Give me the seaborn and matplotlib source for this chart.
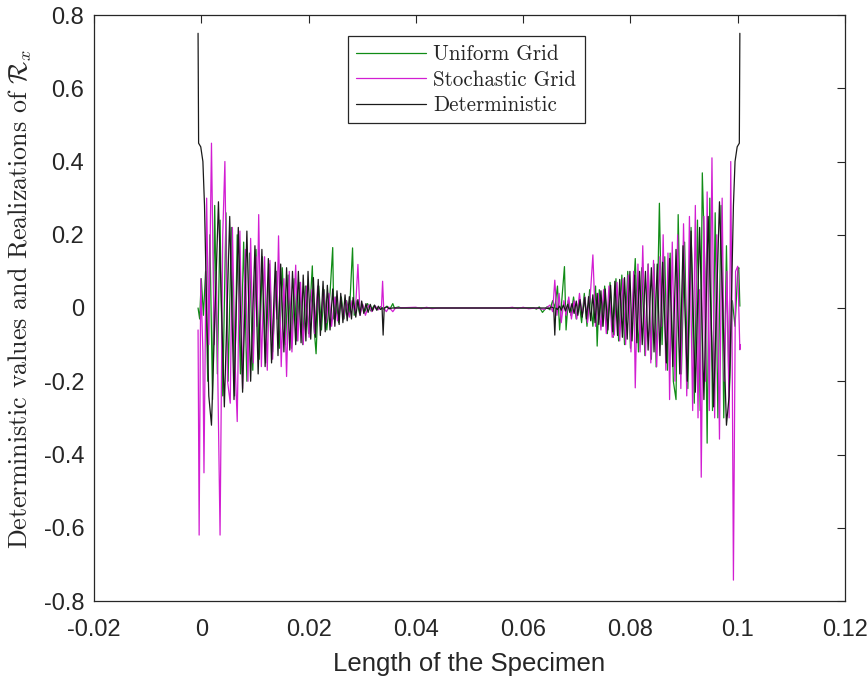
import matplotlib
matplotlib.use("Agg")
import matplotlib.pyplot as plt
from matplotlib import font_manager
import seaborn as sns
import pandas as pd

# ---- Deterministic solution (extrema of the oscillating response) ----
det_x = [-0.0006, -0.0005, -0.0001, 0.0003, 0.0006, 0.0010, 0.0014, 0.0019,
         0.0032, 0.0043, 0.0053, 0.0061, 0.0069, 0.0077, 0.0085, 0.0092, 0.0100, 0.0106,
         0.0113, 0.0119, 0.0125, 0.0131, 0.0138, 0.0143, 0.0148, 0.0154, 0.0159, 0.0165,
         0.0170, 0.0176, 0.0181, 0.0186, 0.0190, 0.0195, 0.0199, 0.0204, 0.0209, 0.0213,
         0.0218, 0.0222, 0.0227, 0.0231, 0.0235, 0.0240, 0.0245, 0.0249, 0.0253, 0.0257,
         0.0260, 0.0264, 0.0268, 0.0272, 0.0276, 0.0280, 0.0283, 0.0288, 0.0292, 0.0296,
         0.0299, 0.0303, 0.0307, 0.0311, 0.0315, 0.0319, 0.0323, 0.0327, 0.0330, 0.0334,
         0.0337, 0.0339, 0.0341, 0.0346, 0.0350, 0.0356,
         0.0642, 0.0648, 0.0652, 0.0657, 0.0659, 0.0661, 0.0664, 0.0668, 0.0671, 0.0675,
         0.0679, 0.0683, 0.0687, 0.0691, 0.0695, 0.0699, 0.0702, 0.0706, 0.0710, 0.0715,
         0.0718, 0.0722, 0.0726, 0.0730, 0.0734, 0.0738, 0.0741, 0.0745, 0.0749, 0.0753,
         0.0758, 0.0763, 0.0767, 0.0771, 0.0776, 0.0780, 0.0785, 0.0789, 0.0794, 0.0799,
         0.0803, 0.0808, 0.0812, 0.0817, 0.0822, 0.0828, 0.0833, 0.0839, 0.0844, 0.0850,
         0.0855, 0.0860, 0.0867, 0.0873, 0.0879, 0.0885, 0.0892, 0.0898, 0.0906, 0.0913,
         0.0921, 0.0929, 0.0937, 0.0945, 0.0955, 0.0966, 0.0979, 0.0984, 0.0988, 0.0992,
         0.0995, 0.0999, 0.1003, 0.1004]
det_y = [0.75, 0.45, 0.44, 0.40, 0.28, 0.00, -0.24, -0.32,
         0.29, -0.27, 0.25, -0.25, 0.22, -0.23, 0.21, -0.20, 0.17, -0.18,
         0.16, -0.16, 0.135, -0.15, 0.125, -0.13, 0.12, -0.12, 0.11, -0.115,
         0.10, -0.10, 0.10, -0.095, 0.09, -0.09, 0.10, -0.085, 0.083, -0.08,
         0.078, -0.075, 0.073, -0.065, 0.062, -0.06, 0.052, -0.05, 0.047, -0.045,
         0.04, -0.04, 0.036, -0.035, 0.031, -0.03, 0.029, -0.025, 0.023, -0.02,
         0.019, -0.015, 0.012, -0.012, 0.01, -0.008, 0.008, -0.006, 0.005, -0.004,
         0.0, -0.074, 0.0, 0.003, -0.002, 0.0,
         0.0, -0.002, 0.003, 0.0, -0.074, 0.0, -0.004, 0.005, -0.006, 0.008,
         -0.008, 0.01, -0.012, 0.012, -0.015, 0.019, -0.02, 0.023, -0.025, 0.029,
         -0.03, 0.031, -0.035, 0.036, -0.04, 0.04, -0.045, 0.047, -0.05, 0.052,
         -0.06, 0.062, -0.065, 0.073, -0.075, 0.078, -0.08, 0.083, -0.085, 0.10,
         -0.09, 0.09, -0.095, 0.10, -0.10, 0.10, -0.115, 0.11, -0.12, 0.12,
         -0.13, 0.125, -0.15, 0.135, -0.16, 0.16, -0.18, 0.17, -0.20, 0.21,
         -0.23, 0.22, -0.25, 0.25, -0.27, 0.29, -0.32, -0.24, 0.00, 0.28,
         0.40, 0.44, 0.45, 0.75]

# ---- Realization on the uniform grid ----
uni_x = [-0.0006, -0.0003, 0.0000, 0.0004, 0.0008, 0.0012, 0.0016, 0.0021, 0.0025, 0.0030,
         0.0035, 0.0040, 0.0046, 0.0050, 0.0056, 0.0062, 0.0067, 0.0073, 0.0079, 0.0085,
         0.0090, 0.0096, 0.0102, 0.0108, 0.0114, 0.0120, 0.0127, 0.0133, 0.0140, 0.0146,
         0.0151, 0.0157, 0.0162, 0.0168, 0.0173, 0.0178, 0.0184, 0.0189, 0.0194, 0.0200,
         0.0207, 0.0210, 0.0214, 0.0219, 0.0224, 0.0229, 0.0234, 0.0240, 0.0245, 0.0247,
         0.0251, 0.0256, 0.0261, 0.0266, 0.0271, 0.0276, 0.0282, 0.0285, 0.0290, 0.0295,
         0.0300, 0.0305, 0.0310, 0.0316, 0.0322, 0.0328, 0.0335, 0.0340, 0.0346, 0.0352,
         0.0357, 0.0360, 0.0368, 0.0372,
         0.0620, 0.0625, 0.0630, 0.0636, 0.0645, 0.0650, 0.0655, 0.0659, 0.0664, 0.0668,
         0.0672, 0.0677, 0.0680, 0.0684, 0.0689, 0.0694, 0.0699, 0.0704, 0.0709, 0.0714,
         0.0719, 0.0724, 0.0730, 0.0735, 0.0738, 0.0742, 0.0747, 0.0752, 0.0757, 0.0762,
         0.0768, 0.0773, 0.0778, 0.0784, 0.0789, 0.0795, 0.0800, 0.0809, 0.0815, 0.0821,
         0.0827, 0.0833, 0.0839, 0.0844, 0.0848, 0.0854, 0.0859, 0.0864, 0.0869, 0.0874,
         0.0880, 0.0885, 0.0889, 0.0895, 0.0901, 0.0907, 0.0913, 0.0919, 0.0925, 0.0930,
         0.0934, 0.0939, 0.0943, 0.0948, 0.0953, 0.0958, 0.0963, 0.0969, 0.0974, 0.0979,
         0.0984, 0.0990, 0.0995, 0.1000, 0.1002, 0.1004]
uni_y = [0.00, -0.03, 0.08, -0.02, 0.10, -0.20, 0.20, -0.25, 0.28, -0.18,
         0.24, -0.24, 0.26, -0.20, 0.22, -0.24, 0.20, -0.18, 0.18, -0.20,
         0.15, -0.17, 0.16, -0.14, 0.14, -0.15, 0.12, -0.12, 0.10, -0.11,
         0.11, -0.10, 0.09, -0.11, 0.08, -0.09, 0.07, -0.10, 0.06, -0.07,
         0.115, -0.05, -0.125, 0.06, -0.06, 0.05, -0.06, 0.04, 0.165, -0.03,
         0.03, -0.04, 0.03, -0.03, 0.02, -0.02, 0.164, -0.02, 0.02, -0.015,
         0.01, -0.01, 0.012, -0.008, 0.006, -0.005, 0.004, -0.003, 0.005, -0.002,
         0.012, 0.0, 0.003, 0.0,
         0.0, -0.003, 0.003, -0.012, 0.004, -0.005, 0.02, 0.0, 0.06, -0.06,
         0.02, 0.113, -0.06, 0.02, -0.02, 0.03, -0.03, 0.02, -0.04, 0.04,
         -0.05, 0.05, -0.05, 0.06, -0.104, 0.05, -0.05, 0.06, -0.07, 0.07,
         -0.08, 0.08, -0.09, 0.09, -0.10, 0.10, -0.11, 0.135, -0.12, 0.11,
         -0.13, 0.12, -0.14, 0.12, -0.161, 0.286, -0.10, 0.14, -0.17, 0.15,
         -0.20, -0.25, 0.255, -0.18, 0.18, -0.22, 0.22, -0.26, 0.24, -0.28,
         0.369, 0.10, -0.369, 0.30, -0.28, 0.26, -0.30, 0.28, -0.30, 0.17,
         -0.25, 0.02, -0.05, 0.10, 0.11, 0.005]

# ---- Realization on the stochastic grid ----
sto_x = [-0.0006, -0.0004, -0.0001, 0.0003, 0.0005, 0.0010, 0.0014, 0.0019, 0.0024, 0.0028,
         0.0035, 0.0040, 0.0044, 0.0049, 0.0054, 0.0058, 0.0063, 0.0067, 0.0072, 0.0077,
         0.0082, 0.0087, 0.0092, 0.0097, 0.0102, 0.0104, 0.0107, 0.0112, 0.0118, 0.0123,
         0.0128, 0.0133, 0.0139, 0.0141, 0.0144, 0.0149, 0.0154, 0.0159, 0.0164, 0.0169,
         0.0176, 0.0180, 0.0185, 0.0190, 0.0196, 0.0201, 0.0206, 0.0211, 0.0217, 0.0222,
         0.0228, 0.0233, 0.0238, 0.0243, 0.0249, 0.0254, 0.0260, 0.0265, 0.0270, 0.0276,
         0.0281, 0.0287, 0.0292, 0.0296, 0.0301, 0.0306, 0.0312, 0.0318, 0.0324, 0.0330,
         0.0336, 0.0338, 0.0340, 0.0345, 0.0350, 0.0357, 0.0362, 0.0400, 0.0410, 0.0420,
         0.0430, 0.0440,
         0.0570, 0.0580, 0.0590, 0.0600, 0.0610, 0.0625, 0.0640, 0.0650, 0.0655, 0.0659,
         0.0663, 0.0667, 0.0671, 0.0676, 0.0680, 0.0685, 0.0690, 0.0695, 0.0700, 0.0705,
         0.0710, 0.0715, 0.0720, 0.0725, 0.0730, 0.0735, 0.0740, 0.0745, 0.0750, 0.0755,
         0.0760, 0.0766, 0.0770, 0.0775, 0.0780, 0.0786, 0.0791, 0.0796, 0.0801, 0.0806,
         0.0809, 0.0814, 0.0818, 0.0823, 0.0828, 0.0833, 0.0838, 0.0843, 0.0849, 0.0855,
         0.0858, 0.0861, 0.0866, 0.0870, 0.0873, 0.0878, 0.0883, 0.0888, 0.0894, 0.0899,
         0.0905, 0.0910, 0.0916, 0.0921, 0.0926, 0.0929, 0.0932, 0.0937, 0.0940, 0.0943,
         0.0947, 0.0952, 0.0957, 0.0961, 0.0966, 0.0971, 0.0975, 0.0980, 0.0984, 0.0987,
         0.0990, 0.0992, 0.0996, 0.1000, 0.1004, 0.1005]
sto_y = [-0.06, -0.62, 0.08, -0.12, -0.45, 0.30, -0.10, 0.45, -0.10, 0.10,
         -0.62, 0.20, 0.40, -0.20, -0.26, 0.22, -0.15, -0.31, 0.21, -0.22,
         0.16, -0.20, 0.19, -0.15, 0.14, -0.05, 0.255, -0.16, 0.14, -0.17,
         0.13, -0.14, 0.10, -0.03, 0.197, -0.16, 0.08, -0.187, 0.10, -0.12,
         0.117, -0.09, 0.07, -0.10, 0.06, -0.08, 0.05, -0.07, 0.06, -0.05,
         0.05, -0.04, 0.04, -0.05, 0.03, -0.035, 0.025, -0.03, 0.02, -0.025,
         0.02, -0.015, 0.119, -0.02, 0.01, -0.02, 0.008, -0.01, 0.006, -0.005,
         0.005, 0.073, 0.0, -0.01, 0.002, -0.01, 0.0, 0.002, -0.002, 0.002,
         -0.002, 0.0,
         0.0, 0.002, -0.002, 0.002, -0.002, 0.0, -0.004, 0.008, -0.01, 0.076,
         -0.02, 0.04, -0.04, 0.02, -0.02, 0.03, -0.03, 0.02, -0.03, 0.04,
         -0.02, 0.03, -0.04, 0.03, 0.145, -0.05, 0.04, -0.06, 0.05, -0.07,
         0.06, -0.08, -0.073, 0.07, -0.09, 0.08, -0.10, 0.09, -0.12, 0.10,
         -0.218, 0.12, -0.12, 0.17, -0.13, 0.12, -0.15, 0.13, -0.16, 0.14,
         -0.05, 0.20, -0.17, 0.15, -0.25, 0.18, -0.20, 0.20, -0.22, 0.23,
         -0.24, 0.25, -0.28, 0.28, -0.30, 0.05, -0.462, 0.25, -0.20, 0.317,
         -0.28, 0.41, -0.30, 0.20, -0.358, 0.30, -0.20, 0.10, -0.30, 0.40,
         -0.20, -0.743, 0.10, 0.114, -0.114, -0.10]

series_names = ["Uniform Grid", "Stochastic Grid", "Deterministic"]
series_colors = ["#108c16", "#d21ed2", "#1a1a1a"]

x_ticks = [-0.02, 0, 0.02, 0.04, 0.06, 0.08, 0.1, 0.12]
x_tick_labels = ["-0.02", "0", "0.02", "0.04", "0.06", "0.08", "0.1", "0.12"]
y_ticks = [-0.8, -0.6, -0.4, -0.2, 0, 0.2, 0.4, 0.6, 0.8]
y_tick_labels = ["-0.8", "-0.6", "-0.4", "-0.2", "0", "0.2", "0.4", "0.6", "0.8"]

sns.set_style("white")
installed = {f.name for f in font_manager.fontManager.ttflist}
axis_font = "Liberation Sans Narrow" if "Liberation Sans Narrow" in installed else "Liberation Sans"
plt.rcParams["font.family"] = [axis_font, "DejaVu Sans"]
plt.rcParams["mathtext.fontset"] = "cm"

fig = plt.figure(figsize=(8.68, 6.82), dpi=100)
ax = fig.add_axes([94 / 868, 81 / 682, 751 / 868, 586 / 682])

frames = [
    pd.DataFrame({"x": uni_x, "y": uni_y}),
    pd.DataFrame({"x": sto_x, "y": sto_y}),
    pd.DataFrame({"x": det_x, "y": det_y}),
]
for df, name, color in zip(frames, series_names, series_colors):
    sns.lineplot(data=df, x="x", y="y", ax=ax, color=color, linewidth=0.9,
                 estimator=None, sort=False, label=name)

ax.set_xlim(-0.02, 0.12)
ax.set_ylim(-0.8, 0.8)
ax.set_xticks(x_ticks)
ax.set_xticklabels(x_tick_labels)
ax.set_yticks(y_ticks)
ax.set_yticklabels(y_tick_labels)

axis_gray = "#262626"
for side in ["left", "right", "top", "bottom"]:
    ax.spines[side].set_visible(True)
    ax.spines[side].set_color(axis_gray)
    ax.spines[side].set_linewidth(0.9)
ax.tick_params(axis="both", which="major", direction="in", length=6, width=0.8,
               color=axis_gray, labelcolor=axis_gray, labelsize=17,
               top=True, right=True)
ax.tick_params(axis="x", pad=13)
ax.tick_params(axis="y", pad=7)

ax.set_xlabel("Length of the Specimen", fontsize=18.5, color=axis_gray, labelpad=8)
ax.set_ylabel(r"Deterministic values and Realizations of $\mathcal{R}_x$",
              fontsize=18.7, color=axis_gray, family="cmr10")
ax.yaxis.set_label_coords(-0.080, 0.515)

leg = ax.legend(loc="upper left", bbox_to_anchor=(0.338, 0.964), borderaxespad=0,
                frameon=True, fancybox=False, framealpha=1, edgecolor=axis_gray,
                prop={"family": "cmr10", "size": 15.2}, handlelength=3.3,
                handletextpad=0.35, labelspacing=0.28, borderpad=0.4)
leg.get_frame().set_linewidth(0.9)

fig.savefig("out.png", dpi=100)
